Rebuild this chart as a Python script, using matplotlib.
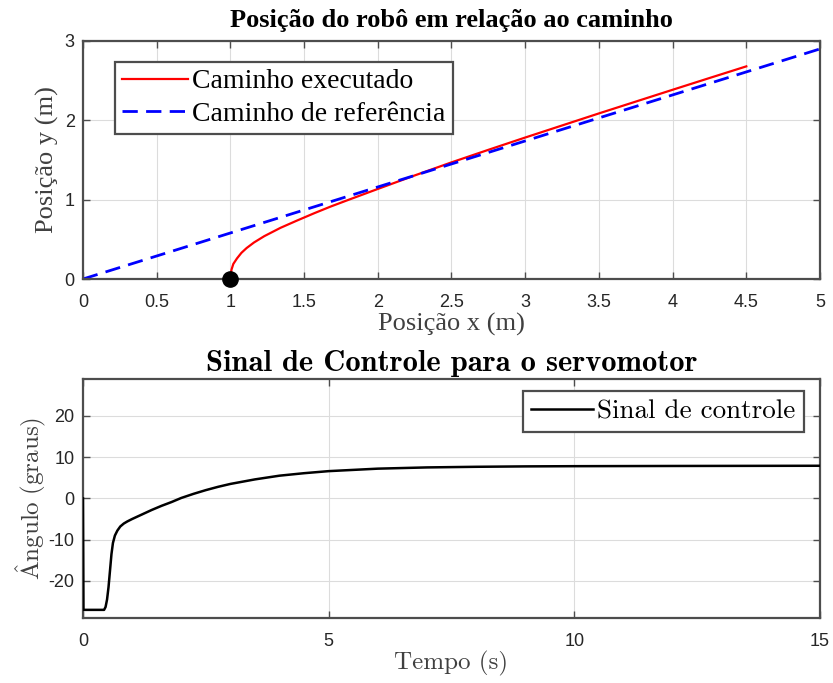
import numpy as np
import matplotlib.pyplot as plt

plt.rcParams['axes.unicode_minus'] = False
plt.rcParams['mathtext.fontset'] = 'cm'

# caminho de referencia (reta)
ref_x = [0.0, 5.0]
ref_y = [0.0, 2.9]

# caminho executado
exec_x = [1.0, 1.002, 1.008, 1.02, 1.045, 1.075, 1.11, 1.16, 1.23, 1.34, 1.45, 1.57, 1.68,
          1.79, 2.0, 2.25, 2.5, 2.75, 3.0, 3.25, 3.5, 3.75, 4.0, 4.25, 4.5]
exec_y = [0.0, 0.06, 0.12, 0.19, 0.26, 0.33, 0.39, 0.46, 0.54, 0.645, 0.735, 0.83, 0.913,
          0.99, 1.135, 1.305, 1.47, 1.628, 1.783, 1.935, 2.087, 2.236, 2.385, 2.533, 2.68]

start_x = [1.0]
start_y = [0.0]

# sinal de controle
t = [0, 0.01, 0.43, 0.46, 0.49, 0.52, 0.55, 0.58, 0.61, 0.65, 0.7, 0.76, 0.83, 0.9, 1.0,
     1.2, 1.4, 1.6, 1.8, 2.0, 2.25, 2.5, 2.75, 3.0, 3.5, 4.0, 4.5, 5.0, 5.5, 6.0,
     6.5, 7.0, 8.0, 9.0, 10.0, 12.0, 15.0]
u = [0, -27, -27, -26.3, -24.5, -21.5, -17.5, -13.5, -10.8, -9.0, -7.8, -6.8, -6.1, -5.6, -5.0,
     -3.9, -2.8, -1.8, -0.9, 0.1, 1.1, 2.0, 2.8, 3.5, 4.6, 5.5, 6.1, 6.6, 6.9, 7.2,
     7.35, 7.5, 7.65, 7.75, 7.8, 7.85, 7.9]

times = ['Liberation Serif', 'DejaVu Serif']
cm = ['cmr10', 'Liberation Serif', 'DejaVu Serif']
cmb = ['cmb10', 'Liberation Serif', 'DejaVu Serif']
tickfont = ['Liberation Sans Narrow', 'Liberation Sans', 'DejaVu Sans']
axcol = '#4d4d4d'

fig = plt.figure(figsize=(8.33, 6.83), dpi=100)
ax1 = fig.add_axes([0.0996, 0.5915, 0.8848, 0.3485])
ax2 = fig.add_axes([0.0996, 0.0956, 0.8848, 0.3488])


def style(ax):
    ax.grid(True, color='#dcdcdc', linewidth=0.8)
    ax.set_axisbelow(True)
    for s in ax.spines.values():
        s.set_color(axcol)
        s.set_linewidth(1.6)
    ax.tick_params(direction='in', length=5, width=1, color=axcol,
                   top=True, right=True, labelsize=13, labelcolor='#262626')
    ax.tick_params(axis='x', pad=11)
    ax.tick_params(axis='y', pad=6)
    for lab in ax.get_xticklabels() + ax.get_yticklabels():
        lab.set_family(tickfont)


ax1.plot(exec_x, exec_y, color='red', linewidth=1.6, label='Caminho executado')
ax1.plot(ref_x, ref_y, color='blue', linewidth=2.0, dashes=(5.5, 3), label='Caminho de referência')
ax1.plot(start_x, start_y, 'o', color='black', markersize=11, clip_on=False, zorder=5)
ax1.set_xlim(0, 5)
ax1.set_ylim(0, 3)
ax1.set_xticks(np.arange(0, 5.01, 0.5))
ax1.set_xticklabels(['0', '0.5', '1', '1.5', '2', '2.5', '3', '3.5', '4', '4.5', '5'])
ax1.set_yticks([0, 1, 2, 3])
style(ax1)
ax1.set_xlabel('Posição x (m)', family=times, fontsize=19, color='#404040', labelpad=1)
ax1.set_ylabel('Posição y (m)', family=times, fontsize=19, color='#404040', labelpad=4)
ax1.set_title('Posição do robô em relação ao caminho', family=times, fontsize=19,
              fontweight='bold', pad=10)
leg1 = ax1.legend(loc='upper left', bbox_to_anchor=(0.043, 0.912), prop={'family': times, 'size': 20},
                  handlelength=2.4, handletextpad=0.15, borderpad=0.25, labelspacing=0.25,
                  borderaxespad=0, fancybox=False, framealpha=1)
leg1.get_frame().set_edgecolor(axcol)
leg1.get_frame().set_linewidth(1.6)

ax2.plot(t, u, color='black', linewidth=1.8, label='Sinal de controle', zorder=3)
ax2.set_xlim(0, 15)
ax2.set_ylim(-28.9, 28.8)
ax2.set_xticks([0, 5, 10, 15])
ax2.set_yticks([-20, -10, 0, 10, 20])
style(ax2)
ax2.set_xlabel('Tempo (s)', family=cm, fontsize=18, color='#404040', labelpad=1)
ax2.set_ylabel(r'$\hat{\mathrm{A}}\mathrm{ngulo\ (graus)}$', fontsize=18, color='#404040', labelpad=0)
ax2.set_title('Sinal de Controle para o servomotor', family=cmb, fontsize=22, pad=6)
leg2 = ax2.legend(loc='upper right', bbox_to_anchor=(0.978, 0.95), prop={'family': cm, 'size': 19.5},
                  handlelength=2.3, handletextpad=0.15, borderpad=0.3,
                  borderaxespad=0, fancybox=False, framealpha=1)
leg2.get_frame().set_edgecolor(axcol)
leg2.get_frame().set_linewidth(1.6)

fig.savefig('out.png', dpi=100)
